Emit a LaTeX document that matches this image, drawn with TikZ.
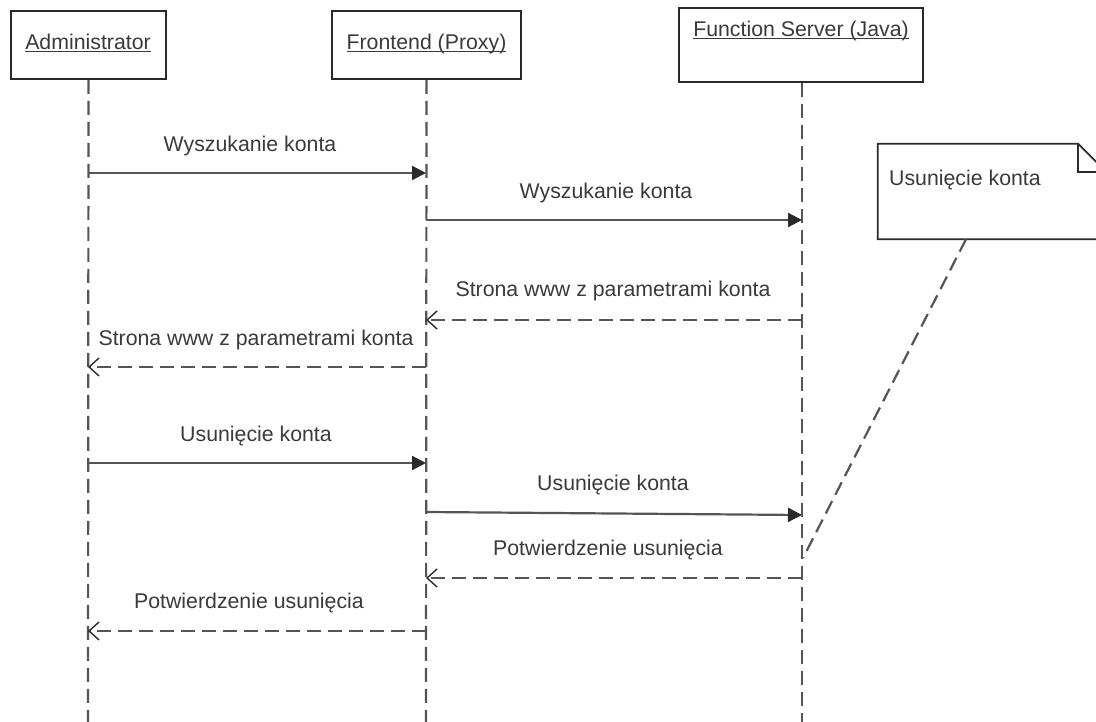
\documentclass[tikz,border=0pt]{standalone}
\usepackage{fontspec}
\setmainfont{Liberation Sans}
\usetikzlibrary{arrows.meta,calc}
\definecolor{txt}{HTML}{3A3A3A}
\definecolor{lline}{HTML}{555555}
\definecolor{boxline}{HTML}{2A2A2A}
\newcommand\ulabel[1]{\underline{\smash{#1}}}
\begin{document}
\begin{tikzpicture}[x=1pt,y=-1pt,
  every node/.style={font=\fontsize{21.3}{25}\selectfont, text=txt},
  actor/.style={draw=boxline, line width=1.8pt, fill=white, rectangle, inner sep=0pt},
  lifeline/.style={draw=lline, line width=2.2pt, dash pattern=on 14pt off 7pt},
  call/.style={draw=lline, line width=2.2pt, -{Triangle[length=14pt,width=14pt,color=boxline]}},
  reply/.style={draw=lline, line width=2.2pt, dash pattern=on 14pt off 7pt,
    -{Straight Barb[length=10pt,width=18pt,line width=1.4pt,color=boxline]}},
  msg/.style={inner sep=0pt, anchor=base},
  notebox/.style={draw=boxline, line width=1.8pt, fill=white},
]
\clip (0,0) rectangle (1096,722);
\fill[white] (0,0) rectangle (1096,722);

% participants
\node[actor, minimum width=155, minimum height=68] (adm) at (88.5,45) {};
\node[msg] (admT) at (88,50) {\ulabel{Administrator}};
\node[actor, minimum width=189, minimum height=68] (fe) at (426.5,45) {};
\node[msg] (feT) at (426.5,50) {\ulabel{Frontend (Proxy)}};
\node[actor, minimum width=244, minimum height=74] (fs) at (801,45) {};
\node[msg] (fsT) at (801,37) {\ulabel{Function Server (Java)}};

% lifelines
\coordinate (admEnd) at (88,722);
\coordinate (feEnd) at (426,722);
\coordinate (fsEnd) at (802,722);
\draw[lifeline] (adm.south) -- (admEnd);
\draw[lifeline] (fe.south) -- (feEnd);
\draw[lifeline] ($(fs.south)+(1,0)$) -- (fsEnd);

% message anchors on the lifelines
\coordinate (A1) at (88,173);  \coordinate (F1) at (426,173);
\coordinate (F2) at (426,220); \coordinate (S2) at (802,220);
\coordinate (S3) at (802,320); \coordinate (F3) at (426,320);
\coordinate (F4) at (426,367); \coordinate (A4) at (88,367);
\coordinate (A5) at (88,463);  \coordinate (F5) at (426,463);
\coordinate (F6) at (426,512); \coordinate (S6) at (802,515);
\coordinate (S7) at (802,578); \coordinate (F7) at (426,578);
\coordinate (F8) at (426,631); \coordinate (A8) at (88,631);

% messages
\draw[call] (A1) -- (F1);
\node[msg] (l1) at (250,152) {Wyszukanie konta};
\draw[call] (F2) -- (S2);
\node[msg] (l2) at (606,199) {Wyszukanie konta};
\draw[reply] (S3) -- (F3);
\node[msg] (l3) at (613,297) {Strona www z parametrami konta};
\draw[reply] (F4) -- (A4);
\node[msg] (l4) at (256,345) {Strona www z parametrami konta};
\draw[call] (A5) -- (F5);
\node[msg] (l5) at (256,441) {Usunięcie konta};
\draw[call] (F6) -- (S6);
\node[msg] (l6) at (613,490) {Usunięcie konta};
\draw[reply] (S7) -- (F7);
\node[msg] (l7) at (608,555) {Potwierdzenie usunięcia};
\draw[reply] (F8) -- (A8);
\node[msg] (l8) at (249,608) {Potwierdzenie usunięcia};

% note with folded corner
\node[inner sep=0pt, minimum width=228, minimum height=95] (note) at (992,191.5) {};
\draw[notebox] (note.south west) -- (note.north west) -- ($(note.north east)+(-28,0)$)
  -- ($(note.north east)+(0,28)$) -- (note.south east) -- cycle;
\draw[draw=boxline, line width=1.8pt] ($(note.north east)+(-28,0)$) -- ($(note.north east)+(-28,28)$)
  -- ($(note.north east)+(0,28)$);
\node[inner sep=0pt, anchor=base west] (noteT) at (889,186) {Usunięcie konta};
\coordinate (noteLink) at (803,558);
\draw[lifeline] ($(note.south)+(-26,0)$) -- (noteLink);
\end{tikzpicture}
\end{document}
